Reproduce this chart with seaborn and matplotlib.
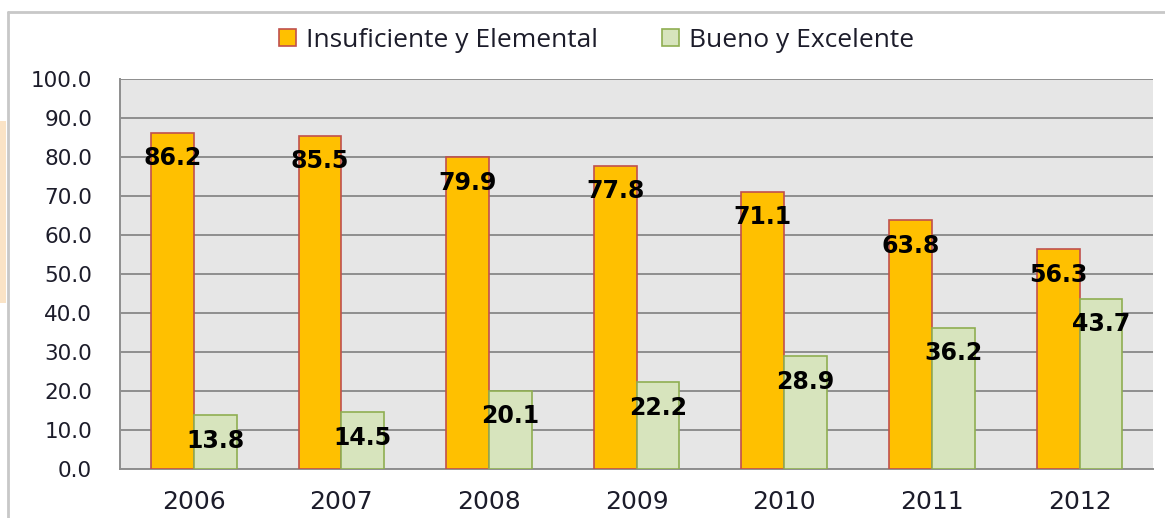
import numpy as np
import pandas as pd
import seaborn as sns
import matplotlib.pyplot as plt
from matplotlib.lines import Line2D
from matplotlib.patches import Rectangle, Patch

years = ["2006", "2007", "2008", "2009", "2010", "2011", "2012"]
insuficiente = [86.2, 85.5, 79.9, 77.8, 71.1, 63.8, 56.3]
bueno = [13.8, 14.5, 20.1, 22.2, 28.9, 36.2, 43.7]
series = ["Insuficiente y Elemental", "Bueno y Excelente"]
y_ticks = [0, 10, 20, 30, 40, 50, 60, 70, 80, 90, 100]

FILL = ["#FFC000", "#D7E4BD"]
EDGE = ["#C0504D", "#8FAE52"]
TEXT = "#1c1c2a"

df = pd.DataFrame({
    "year": years * 2,
    "value": insuficiente + bueno,
    "serie": [series[0]] * len(years) + [series[1]] * len(years),
})

sns.set_style("white")
plt.rcParams["font.family"] = ["DejaVu Sans"]
fig = plt.figure(figsize=(11.65, 5.18), dpi=100)
ax = fig.add_axes([0.103, 0.0946, 0.887, 0.7529])
ax.set_facecolor("#E6E6E6")

sns.barplot(data=df, x="year", y="value", hue="serie", palette=FILL,
            width=0.58, gap=0, saturation=1, ax=ax, legend=False, zorder=3)

for cont, ec in zip(ax.containers, EDGE):
    for bar in cont:
        bar.set_edgecolor(ec)
        bar.set_linewidth(1.2)
    ax.bar_label(cont, fmt="%.1f", label_type="edge", padding=-27,
                 fontsize=17, fontweight="bold", color="black", zorder=5)

ax.set_ylim(0, 100)
ax.set_yticks(y_ticks)
ax.set_yticklabels([f"{v:.1f}" for v in y_ticks], fontsize=15.5, color=TEXT)
ax.yaxis.grid(True, color="#8E8E8E", linewidth=1.4, zorder=0)
ax.set_axisbelow(True)
ax.set_xlabel("")
ax.set_ylabel("")

ax.set_xticks(range(len(years)))
ax.set_xticklabels(years, fontsize=18, color=TEXT)
ax.set_xticks(np.arange(-0.5, len(years), 1), minor=True)
ax.tick_params(axis="x", which="major", length=0, pad=15)
ax.tick_params(axis="x", which="minor", length=7, width=1.4, color="#8E8E8E")
ax.tick_params(axis="y", length=7, width=1.4, color="#8E8E8E", pad=13)

for s in ["top", "right"]:
    ax.spines[s].set_visible(False)
for s in ["left", "bottom"]:
    ax.spines[s].set_color("#8E8E8E")
    ax.spines[s].set_linewidth(1.4)

handles = [Patch(facecolor=f, edgecolor=e, linewidth=1.2) for f, e in zip(FILL, EDGE)]
fig.legend(handles, series, loc="center", bbox_to_anchor=(0.512, 0.922), ncol=2,
           frameon=False, prop={"family": "Open Sans", "size": 19}, handlelength=0.65,
           handleheight=0.65, handletextpad=0.4, columnspacing=2.4, labelcolor=TEXT)

# outer chart frame and side strip
fig.add_artist(Line2D([8 / 1165, 1], [1 - 12 / 518, 1 - 12 / 518], color="#C8C8C8", lw=2))
fig.add_artist(Line2D([8 / 1165, 8 / 1165], [0, 1 - 12 / 518], color="#C8C8C8", lw=2))
fig.add_artist(Rectangle((0, 1 - 303 / 518), 6 / 1165, 182 / 518,
                         transform=fig.transFigure, color="#FAE3C6", lw=0))

fig.savefig("out.png", dpi=100)
